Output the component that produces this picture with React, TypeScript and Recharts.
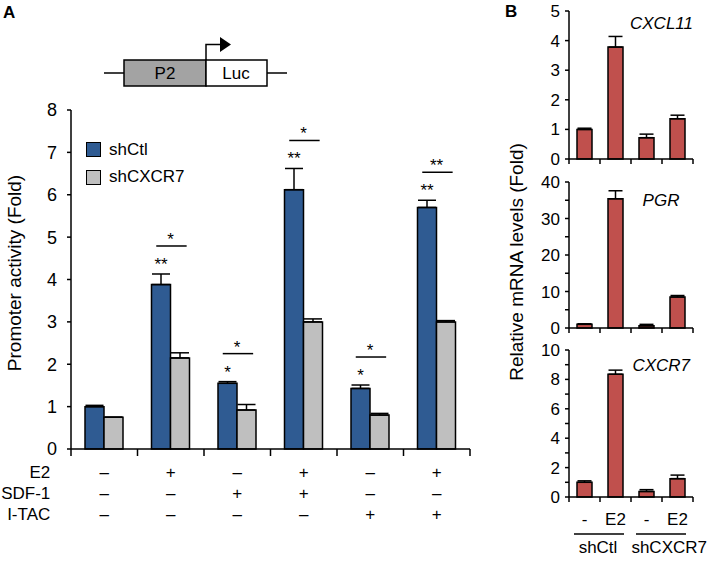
import React from 'react';
import { BarChart, Bar, XAxis, YAxis, ErrorBar, LabelList, Legend } from 'recharts';

// Panel A: promoter activity
const conditions = ['c1', 'c2', 'c3', 'c4', 'c5', 'c6'];
const e2Row = ['–', '+', '–', '+', '–', '+'];
const sdfRow = ['–', '–', '+', '+', '–', '–'];
const itacRow = ['–', '–', '–', '–', '+', '+'];
const shCtlValues = [1.0, 3.88, 1.55, 6.12, 1.43, 5.7];
const shCtlErr = [0.03, 0.25, 0.04, 0.5, 0.08, 0.17];
const shCXCR7Values = [0.75, 2.15, 0.92, 3.0, 0.8, 3.0];
const shCXCR7Err = [0.0, 0.12, 0.13, 0.07, 0.04, 0.03];
const starsOverBar = ['', '**', '*', '**', '*', '**'];
const starsOverPair = ['', '*', '*', '*', '*', '**'];
const promoterTicks = [0, 1, 2, 3, 4, 5, 6, 7, 8];
const seriesNames = ['shCtl', 'shCXCR7'];

// Panel B: mRNA levels
const mrnaConds = ['-', 'E2', '-', 'E2'];
const mrnaGroups = ['shCtl', 'shCXCR7'];
const cxcl11Values = [1.0, 3.78, 0.72, 1.36];
const cxcl11Err = [0.04, 0.36, 0.12, 0.12];
const pgrValues = [1.0, 35.4, 0.6, 8.5];
const pgrErr = [0.15, 2.2, 0.4, 0.4];
const cxcr7Values = [1.0, 8.35, 0.38, 1.25];
const cxcr7Err = [0.1, 0.28, 0.12, 0.24];
const cxcl11Ticks = [0, 1, 2, 3, 4, 5];
const pgrTicks = [0, 5, 10, 15, 20, 25, 30, 35, 40];
const cxcr7Ticks = [0, 1, 2, 3, 4, 5, 6, 7, 8, 9, 10];

const BLUE = '#2f5b92';
const GRAY = '#bfbfbf';
const RED = '#c0504d';
const FONT = 'Arial, "Liberation Sans", sans-serif';
const seriesColors = [BLUE, GRAY];

const A_TOP = 110;
const A_BOTTOM = 449;
const A_LEFT = 71;
const A_RIGHT = 470;
const A_PX = (A_BOTTOM - A_TOP) / 8;
const A_BW = (A_RIGHT - A_LEFT) / 6;

const promoterData = conditions.map((c, i) => ({
  name: c,
  idx: i,
  shCtl: shCtlValues[i],
  shCtlErr: [0, shCtlErr[i]],
  shCXCR7: shCXCR7Values[i],
  shCXCR7Err: [0, shCXCR7Err[i]],
}));

const PromoterTick = (props: any) => {
  const { x, y, payload } = props;
  const i = props.index ?? payload.index;
  const rows = [e2Row, sdfRow, itacRow];
  const names = ['E2', 'SDF-1', 'I-TAC'];
  return (
    <g>
      <line x1={x - A_BW / 2} y1={y} x2={x - A_BW / 2} y2={y + 7} stroke="#000" strokeWidth={1.5} />
      {i === 5 && <line x1={x + A_BW / 2} y1={y} x2={x + A_BW / 2} y2={y + 7} stroke="#000" strokeWidth={1.5} />}
      {rows.map((r, k) => (
        <text key={k} x={x} y={y + 29 + k * 21} textAnchor="middle" fontSize={17} fill="#000">
          {r[i]}
        </text>
      ))}
      {i === 0 &&
        names.map((n, k) => (
          <text key={n} x={x - 54} y={y + 29 + k * 21} textAnchor="end" fontSize={17} fill="#000">
            {n}
          </text>
        ))}
    </g>
  );
};

const renderSig = (props: any) => {
  const vb = props.viewBox ?? props;
  const x = Number(vb.x);
  const y = Number(vb.y);
  const w = Number(vb.width);
  const i = Number(props.value);
  if (!starsOverBar[i]) return null;
  const errTop = y - shCtlErr[i] * A_PX;
  const lineY = errTop - 28;
  return (
    <g>
      <text x={x + w / 2} y={errTop - 4} textAnchor="middle" fontSize={17} fill="#000">
        {starsOverBar[i]}
      </text>
      <line x1={x + w * 0.25} y1={lineY} x2={x + w * 1.85} y2={lineY} stroke="#000" strokeWidth={1.5} />
      <text x={x + w} y={lineY - 1} textAnchor="middle" fontSize={17} fill="#000">
        {starsOverPair[i]}
      </text>
    </g>
  );
};

const renderLegend = () => (
  <div style={{ fontFamily: FONT, fontSize: 17 }}>
    {seriesNames.map((n, k) => (
      <div key={n} style={{ display: 'flex', alignItems: 'center', height: 27.5 }}>
        <span
          style={{
            display: 'inline-block',
            width: 13,
            height: 13,
            background: seriesColors[k],
            border: '1.5px solid #000',
            marginRight: 8,
          }}
        />
        <span>{n}</span>
      </div>
    ))}
  </div>
);

const MrnaTick = (props: any) => {
  const { x, y, payload } = props;
  const i = props.index ?? payload.index;
  const bw = 31;
  const showLabels = props.showLabels;
  return (
    <g>
      <line x1={x - bw / 2} y1={y} x2={x - bw / 2} y2={y + 5} stroke="#000" strokeWidth={1.5} />
      {i === 3 && <line x1={x + bw / 2} y1={y} x2={x + bw / 2} y2={y + 5} stroke="#000" strokeWidth={1.5} />}
      {showLabels && (
        <text x={x} y={y + 28} textAnchor="middle" fontSize={17} fill="#000">
          {mrnaConds[i]}
        </text>
      )}
      {showLabels && i % 2 === 0 && (
        <g>
          <line x1={x + bw / 2 - 26} y1={y + 37} x2={x + bw / 2 + 24} y2={y + 37} stroke="#000" strokeWidth={1.5} />
          <text
            x={i === 0 ? x + bw / 2 - 2 : 707 - 520}
            y={y + 56}
            textAnchor={i === 0 ? 'middle' : 'end'}
            fontSize={17}
            fill="#000"
          >
            {mrnaGroups[i / 2]}
          </text>
        </g>
      )}
    </g>
  );
};

type MrnaProps = {
  values: number[];
  errs: number[];
  ticks: number[];
  labelStep: number;
  top: number;
  height: number;
  mt: number;
  mb: number;
  xh: number;
  showLabels?: boolean;
};

const MrnaChart = ({ values, errs, ticks, labelStep, top, height, mt, mb, xh, showLabels }: MrnaProps) => {
  const data = mrnaConds.map((c, i) => ({ name: `${c}${i}`, value: values[i], err: [0, errs[i]] }));
  return (
    <div style={{ position: 'absolute', left: 520, top, width: 189, height }}>
      <BarChart width={189} height={height} data={data} margin={{ top: mt, right: 16, bottom: mb, left: 0 }} barCategoryGap="24%">
        <XAxis
          dataKey="name"
          height={xh}
          axisLine={{ stroke: '#000', strokeWidth: 1.5 }}
          tickLine={false}
          tickSize={0}
          tickMargin={0}
          interval={0}
          tick={<MrnaTick showLabels={showLabels} />}
        />
        <YAxis
          width={49}
          domain={[0, ticks[ticks.length - 1]]}
          ticks={ticks}
          interval={0}
          tickSize={4}
          tickMargin={5}
          axisLine={{ stroke: '#000', strokeWidth: 1.5 }}
          tickLine={{ stroke: '#000', strokeWidth: 1.5 }}
          tick={{ fill: '#000', fontSize: 17 }}
          tickFormatter={(v: number) => (v % labelStep === 0 ? String(v) : '')}
        />
        <Bar dataKey="value" fill={RED} stroke="#000" strokeWidth={1.5} barSize={15} isAnimationActive={false}>
          <ErrorBar dataKey="err" width={7} stroke="#000" strokeWidth={1.5} direction="y" />
        </Bar>
      </BarChart>
    </div>
  );
};

export default function App() {
  return (
    <div style={{ position: 'absolute', left: 0, top: 0, width: 709, height: 563, background: '#fff', fontFamily: FONT }}>
      <div style={{ position: 'absolute', left: 0, top: 0, width: 480, height: 563 }}>
        <BarChart
          width={480}
          height={563}
          data={promoterData}
          margin={{ top: A_TOP, right: 480 - A_RIGHT, bottom: 14, left: 0 }}
          barGap={0}
          barSize={19}
        >
          <XAxis
            dataKey="name"
            height={100}
            axisLine={{ stroke: '#000', strokeWidth: 1.5 }}
            tickLine={false}
            tickSize={0}
            tickMargin={0}
            interval={0}
            tick={<PromoterTick />}
          />
          <YAxis
            width={A_LEFT}
            domain={[0, 8]}
            ticks={promoterTicks}
            interval={0}
            tickSize={4}
            tickMargin={10}
            axisLine={{ stroke: '#000', strokeWidth: 1.5 }}
            tickLine={{ stroke: '#000', strokeWidth: 1.5 }}
            tick={{ fill: '#000', fontSize: 18 }}
          />
          <Legend
            layout="vertical"
            align="center"
            verticalAlign="middle"
            wrapperStyle={{ left: 86, top: 136, width: 'auto' }}
            content={renderLegend}
          />
          <Bar dataKey="shCtl" name="shCtl" fill={BLUE} stroke="#000" strokeWidth={1.5} isAnimationActive={false}>
            <ErrorBar dataKey="shCtlErr" width={9} stroke="#000" strokeWidth={1.5} direction="y" />
            <LabelList dataKey="idx" content={renderSig} />
          </Bar>
          <Bar dataKey="shCXCR7" name="shCXCR7" fill={GRAY} stroke="#000" strokeWidth={1.5} isAnimationActive={false}>
            <ErrorBar dataKey="shCXCR7Err" width={9} stroke="#000" strokeWidth={1.5} direction="y" />
          </Bar>
        </BarChart>
      </div>

      <MrnaChart values={cxcl11Values} errs={cxcl11Err} ticks={cxcl11Ticks} labelStep={1} top={0} height={170} mt={11} mb={3} xh={8} />
      <MrnaChart values={pgrValues} errs={pgrErr} ticks={pgrTicks} labelStep={10} top={170} height={170} mt={12} mb={4} xh={8} />
      <MrnaChart values={cxcr7Values} errs={cxcr7Err} ticks={cxcr7Ticks} labelStep={2} top={340} height={223} mt={10} mb={6} xh={60} showLabels />

      <svg width={709} height={563} style={{ position: 'absolute', left: 0, top: 0, pointerEvents: 'none' }}>
        <text x={3} y={18} fontSize={17} fontWeight="bold" fill="#000">A</text>
        <text x={505} y={17} fontSize={17} fontWeight="bold" fill="#000">B</text>

        <line x1={104} y1={73} x2={124} y2={73} stroke="#000" strokeWidth={1.5} />
        <rect x={124} y={60} width={82} height={26} fill="#a3a3a3" stroke="#000" strokeWidth={1.5} />
        <rect x={206} y={60} width={61} height={26} fill="#fff" stroke="#000" strokeWidth={1.5} />
        <line x1={267} y1={73} x2={287} y2={73} stroke="#000" strokeWidth={1.5} />
        <polyline points="206,60 206,44.5 221,44.5" fill="none" stroke="#000" strokeWidth={1.5} />
        <polygon points="220,37 231,44.5 220,52" fill="#000" />
        <text x={165} y={79} fontSize={17} textAnchor="middle" fill="#000">P2</text>
        <text x={236} y={79} fontSize={17} textAnchor="middle" fill="#000">Luc</text>

        <text transform="translate(21,273) rotate(-90)" fontSize={19} textAnchor="middle" fill="#000">
          Promoter activity (Fold)
        </text>
        <text transform="translate(523,262) rotate(-90)" fontSize={19} textAnchor="middle" fill="#000">
          Relative mRNA levels (Fold)
        </text>

        <text x={693} y={29} fontSize={17} fontStyle="italic" textAnchor="end" fill="#000">CXCL11</text>
        <text x={661} y={206} fontSize={17} fontStyle="italic" textAnchor="middle" fill="#000">PGR</text>
        <text x={690} y={371} fontSize={17} fontStyle="italic" textAnchor="end" fill="#000">CXCR7</text>
      </svg>
    </div>
  );
}
